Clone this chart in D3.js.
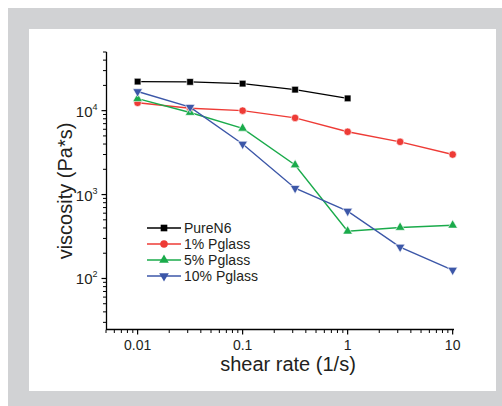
<!DOCTYPE html>
<html>
<head>
<meta charset="utf-8">
<script src="https://cdn.jsdelivr.net/npm/d3@7/dist/d3.min.js"></script>
<style>
  html, body { margin: 0; padding: 0; background: #fff; }
  svg { display: block; font-family: "Liberation Sans", Arial, sans-serif; }
</style>
</head>
<body>
<svg id="chart" width="502" height="406"></svg>
<script>
// Shear rates (1/s) shared by all series
const shearRates = [0.01, 0.0316, 0.1, 0.316, 1, 3.16, 10];

// Viscosity (Pa*s) per sample
const pureN6   = [22200, 22000, 21000, 17800, 14000];
const pglass1  = [12400, 10700, 10000, 8200, 5600, 4250, 3000];
const pglass5  = [13900, 9500, 6150, 2250, 365, 405, 430];
const pglass10 = [16900, 11000, 4000, 1190, 635, 237, 126];

const seriesNames = ["PureN6", "1% Pglass", "5% Pglass", "10% Pglass"];
const xTickValues = [0.01, 0.1, 1, 10];
const xTickLabels = ["0.01", "0.1", "1", "10"];
const yTickValues = [100, 1000, 10000];
const yTickExponents = ["2", "3", "4"];

const series = [
  { name: seriesNames[0], values: pureN6,   color: "#000000", symbol: d3.symbolSquare,   size: 44, rotate: 0 },
  { name: seriesNames[1], values: pglass1,  color: "#ee3b36", symbol: d3.symbolCircle,   size: 44, rotate: 0 },
  { name: seriesNames[2], values: pglass5,  color: "#1aab4b", symbol: d3.symbolTriangle, size: 40, rotate: 0 },
  { name: seriesNames[3], values: pglass10, color: "#3c57a8", symbol: d3.symbolTriangle, size: 40, rotate: 180 }
];

const svg = d3.select("#chart");

// framed background
svg.append("rect").attr("x", 8).attr("y", 8).attr("width", 494).attr("height", 398).attr("fill", "#d1d2d4");
svg.append("rect").attr("x", 29).attr("y", 29).attr("width", 467).attr("height", 362).attr("fill", "#ffffff");

const x = d3.scaleLog().domain([0.005, 10.3]).range([106, 454]);
const y = d3.scaleLog().domain([25, 50000]).range([329, 52]);

// minor ticks
const xMinor = [];
[0.001, 0.01, 0.1, 1].forEach(b => { for (let k = 2; k <= 9; k++) { const v = b * k; if (v >= 0.005 && v <= 10) xMinor.push(v); } });
const yMinor = [];
[10, 100, 1000, 10000].forEach(b => { for (let k = 2; k <= 9; k++) { const v = b * k; if (v >= 25 && v <= 50000) yMinor.push(v); } });

const axisColor = "#000";

// x axis
const gx = svg.append("g").attr("transform", "translate(0,329.5)");
gx.append("line").attr("x1", x.range()[0]).attr("x2", x.range()[1]).attr("stroke", axisColor).attr("stroke-width", 1.3);
gx.selectAll(".minor").data(xMinor).join("line")
  .attr("x1", d => x(d)).attr("x2", d => x(d)).attr("y1", 0).attr("y2", 3.5)
  .attr("stroke", axisColor).attr("stroke-width", 1);
gx.selectAll(".major").data(xTickValues).join("line")
  .attr("x1", d => x(d)).attr("x2", d => x(d)).attr("y1", 0).attr("y2", 5)
  .attr("stroke", axisColor).attr("stroke-width", 1.2);
gx.selectAll("text").data(xTickValues).join("text")
  .attr("x", d => x(d)).attr("y", 20)
  .attr("text-anchor", "middle").attr("font-size", 14).attr("fill", "#231f20")
  .text((d, i) => xTickLabels[i]);

// y axis
const gy = svg.append("g").attr("transform", "translate(106.5,0)");
gy.append("line").attr("y1", y.range()[0]).attr("y2", y.range()[1]).attr("stroke", axisColor).attr("stroke-width", 1.3);
gy.selectAll(".minor").data(yMinor).join("line")
  .attr("y1", d => y(d)).attr("y2", d => y(d)).attr("x1", 0).attr("x2", -3.5)
  .attr("stroke", axisColor).attr("stroke-width", 1);
gy.selectAll(".major").data(yTickValues).join("line")
  .attr("y1", d => y(d)).attr("y2", d => y(d)).attr("x1", 0).attr("x2", -5)
  .attr("stroke", axisColor).attr("stroke-width", 1.2);
const yl = gy.selectAll("text").data(yTickValues).join("text")
  .attr("x", -9).attr("y", d => y(d) + 6)
  .attr("text-anchor", "end").attr("font-size", 15).attr("fill", "#231f20");
yl.append("tspan").text("10");
yl.append("tspan").attr("font-size", 9).attr("dy", -7).text((d, i) => yTickExponents[i]);

// axis titles
svg.append("text").attr("x", 288).attr("y", 371).attr("text-anchor", "middle")
  .attr("font-size", 20).attr("fill", "#231f20").text("shear rate (1/s)");
svg.append("text").attr("transform", "translate(72,191) rotate(-90)").attr("text-anchor", "middle")
  .attr("font-size", 20).attr("fill", "#231f20").text("viscosity (Pa*s)");

// series lines and markers
const line = d3.line().x(d => x(d[0])).y(d => y(d[1]));
series.forEach(s => {
  const pts = s.values.map((v, i) => [shearRates[i], v]);
  svg.append("path").datum(pts).attr("d", line)
    .attr("fill", "none").attr("stroke", s.color).attr("stroke-width", 1.4);
  svg.append("g").selectAll("path").data(pts).join("path")
    .attr("d", d3.symbol().type(s.symbol).size(s.size))
    .attr("transform", d => `translate(${x(d[0])},${y(d[1])}) rotate(${s.rotate})`)
    .attr("fill", s.color).attr("stroke", "#fff").attr("stroke-width", 0.6);
});

// legend
const legend = svg.append("g").attr("transform", "translate(147,228)");
series.forEach((s, i) => {
  const g = legend.append("g").attr("transform", `translate(0,${i * 16})`);
  g.append("line").attr("x1", 0).attr("x2", 34).attr("stroke", s.color).attr("stroke-width", 1.4);
  g.append("path").attr("d", d3.symbol().type(s.symbol).size(s.size))
    .attr("transform", `translate(17,0) rotate(${s.rotate})`).attr("fill", s.color);
  g.append("text").attr("x", 37).attr("y", 5).attr("font-size", 14).attr("fill", "#231f20").text(s.name);
});
</script>
</body>
</html>
